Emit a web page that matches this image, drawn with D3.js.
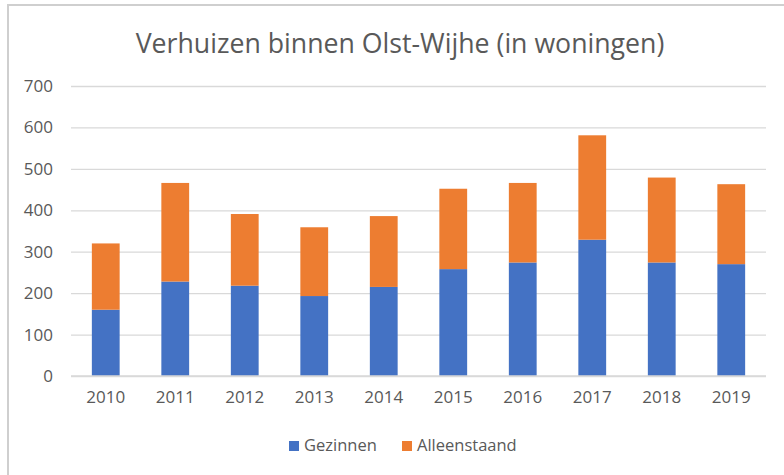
<!DOCTYPE html>
<html lang="nl">
<head>
<meta charset="utf-8">
<title>Verhuizen binnen Olst-Wijhe</title>
<script src="https://d3js.org/d3.v7.min.js"></script>
<style>
  body { margin: 0; background: #fff; }
  text { font-family: "Open Sans", sans-serif; fill: #595959; }
</style>
</head>
<body>
<div id="chart"></div>
<script>
// data
const years = ["2010", "2011", "2012", "2013", "2014", "2015", "2016", "2017", "2018", "2019"];
const gezinnen = [160, 228, 218, 193, 215, 258, 274, 329, 274, 270];
const alleenstaand = [160, 238, 173, 166, 171, 194, 192, 252, 205, 193];
const seriesNames = ["Gezinnen", "Alleenstaand"];
const colors = ["#4472C4", "#ED7D31"];
const yTicks = [0, 100, 200, 300, 400, 500, 600, 700];

const W = 784, H = 475;
const margin = {top: 86, right: 18, bottom: 99, left: 71};

const svg = d3.select("#chart").append("svg")
    .attr("width", W)
    .attr("height", H);

// chart border (only top/left visible in the original crop)
svg.append("rect")
    .attr("x", 8).attr("y", 5)
    .attr("width", W + 10).attr("height", H + 10)
    .attr("fill", "none")
    .attr("stroke", "#cfcfcf")
    .attr("stroke-width", 2);

svg.append("text")
    .attr("x", 400).attr("y", 53)
    .attr("text-anchor", "middle")
    .style("font-size", "26.7px")
    .text("Verhuizen binnen Olst-Wijhe (in woningen)");

const g = svg.append("g")
    .attr("transform", `translate(${margin.left},${margin.top})`);

const width = W - margin.left - margin.right,
      height = H - margin.top - margin.bottom;

const x = d3.scaleBand()
    .domain(years)
    .range([0, width])
    .paddingInner(0.6)
    .paddingOuter(0.3);

const y = d3.scaleLinear()
    .domain([0, 700])
    .range([height, 0]);

// gridlines
g.append("g")
    .call(d3.axisLeft(y).tickValues(yTicks).tickSize(-width).tickFormat(""))
    .call(a => a.select(".domain").remove())
    .selectAll("line")
      .attr("stroke", "#d9d9d9")
      .attr("stroke-width", 1.3);

// y labels
g.append("g")
    .call(d3.axisLeft(y).tickValues(yTicks).tickSize(0).tickPadding(18))
    .call(a => a.select(".domain").remove())
    .selectAll("text")
      .style("font-size", "17px")
      .style("fill", "#595959");

// stacked bars
const table = years.map((yr, i) => ({year: yr, Gezinnen: gezinnen[i], Alleenstaand: alleenstaand[i]}));
const stack = d3.stack().keys(seriesNames)(table);

g.selectAll(".series")
  .data(stack)
  .join("g")
    .attr("fill", (d, i) => colors[i])
  .selectAll("rect")
  .data(d => d)
  .join("rect")
    .attr("x", d => x(d.data.year))
    .attr("y", d => y(d[1]))
    .attr("width", x.bandwidth())
    .attr("height", d => y(d[0]) - y(d[1]));

// x axis line + labels
g.append("line")
    .attr("x1", 0).attr("x2", width)
    .attr("y1", height).attr("y2", height)
    .attr("stroke", "#d9d9d9")
    .attr("stroke-width", 1.3);

g.append("g")
    .attr("transform", `translate(0,${height})`)
    .call(d3.axisBottom(x).tickSize(0).tickPadding(15))
    .call(a => a.select(".domain").remove())
    .selectAll("text")
      .style("font-size", "17px")
      .style("fill", "#595959");

// legend
const legendX = [289, 402];
const legend = svg.append("g");
seriesNames.forEach((name, i) => {
  legend.append("rect")
      .attr("x", legendX[i]).attr("y", 441)
      .attr("width", 10).attr("height", 10)
      .attr("fill", colors[i]);
  legend.append("text")
      .attr("x", legendX[i] + 15).attr("y", 451)
      .style("font-size", "16.5px")
      .text(name);
});
</script>
</body>
</html>
